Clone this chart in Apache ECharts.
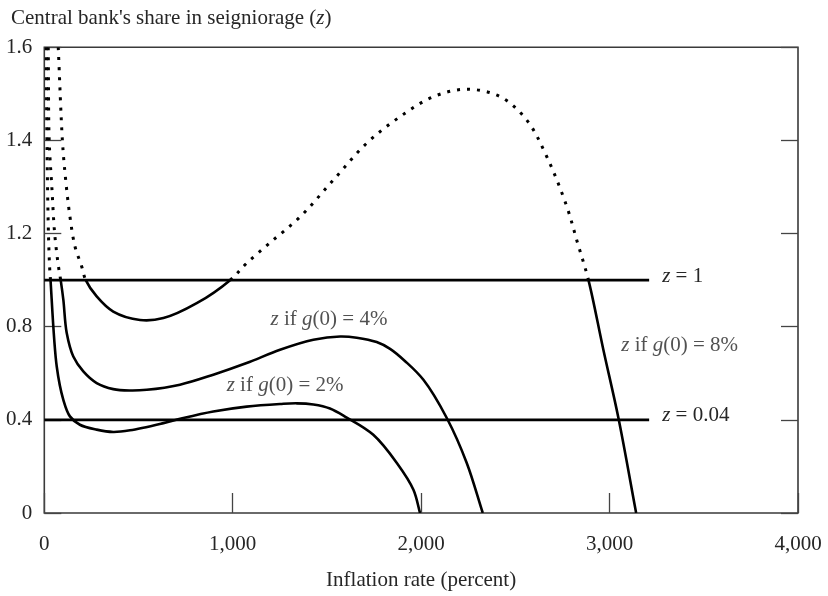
<!DOCTYPE html>
<html>
<head>
<meta charset="utf-8">
<script src="https://cdn.jsdelivr.net/npm/echarts@6/dist/echarts.min.js"></script>
<style>
  html, body { margin: 0; padding: 0; background: #ffffff; }
  #chart { width: 828px; height: 596px; }
</style>
</head>
<body>
<div id="chart"></div>
<script>
// Axis ticks
const xTickValues = [0, 1000, 2000, 3000, 4000];
const yTickLabels = ['0', '0.4', '0.8', '1.2', '1.4', '1.6'];

// z when g(0) = 2%
const g2Inflation = [10, 14, 22, 29, 33, 66, 101, 136, 189, 278, 366, 455, 632, 738, 897, 1074, 1251, 1340, 1428, 1516, 1605, 1746, 1871, 1959, 1994];
const g2Share     = [2.0, 1.6, 1.2, 1.044, 1.0, 0.629, 0.486, 0.415, 0.379, 0.358, 0.348, 0.355, 0.386, 0.408, 0.436, 0.457, 0.468, 0.471, 0.466, 0.449, 0.41, 0.336, 0.215, 0.1, 0];

// z when g(0) = 4%
const g4Inflation = [21, 26, 40, 55, 75, 87, 101, 119, 154, 207, 278, 366, 455, 544, 720, 897, 1074, 1251, 1428, 1570, 1658, 1764, 1835, 1915, 2012, 2136, 2242, 2327];
const g4Share     = [2.0, 1.6, 1.4, 1.2, 1.06, 1.0, 0.916, 0.773, 0.672, 0.608, 0.558, 0.532, 0.526, 0.529, 0.551, 0.594, 0.644, 0.701, 0.744, 0.758, 0.753, 0.734, 0.705, 0.652, 0.572, 0.408, 0.215, 0];

// z when g(0) = 8%
const g8Inflation = [74, 96, 110, 136, 163, 198, 220, 278, 366, 508, 632, 809, 986, 1074, 1200, 1359, 1534, 1711, 1888, 2065, 2242, 2419, 2560, 2667, 2773, 2830, 2888, 2967, 3047, 3141];
const g8Share     = [2.0, 1.6, 1.459, 1.273, 1.144, 1.06, 1.0, 0.930, 0.865, 0.829, 0.837, 0.901, 1.0, 1.073, 1.162, 1.273, 1.430, 1.588, 1.702, 1.788, 1.820, 1.788, 1.688, 1.530, 1.316, 1.16, 1.0, 0.701, 0.408, 0];

// Reference levels
const levelOneInflation = [0, 3210];
const levelOneShare = [1, 1];
const levelLowInflation = [0, 3210];
const levelLowShare = [0.4, 0.4];

const FONT = 'Liberation Serif';
const TEXT = '#262626';
const italic = { fontStyle: 'italic', fontFamily: FONT, fontSize: 21, color: TEXT };
const DOTTED = [3, 7];

function pairs(xs, ys) {
  return xs.map((x, i) => [x, ys[i]]);
}

// Centripetal Catmull-Rom segment between p1 and p2, returned as Bezier control points
function bezierControls(p0, p1, p2, p3) {
  const dist = (a, b) => Math.pow(Math.hypot(b[0] - a[0], b[1] - a[1]), 0.5);
  const d1 = dist(p0, p1), d2 = dist(p1, p2), d3 = dist(p2, p3);
  let c1, c2;
  if (d1 < 1e-6) {
    c1 = [p1[0] + (p2[0] - p1[0]) / 3, p1[1] + (p2[1] - p1[1]) / 3];
  } else {
    const a = d1 * d1, b = d2 * d2, m = 2 * a + 3 * d1 * d2 + b, n = 3 * d1 * (d1 + d2);
    c1 = [0, 1].map(k => (a * p2[k] - b * p0[k] + m * p1[k]) / n);
  }
  if (d3 < 1e-6) {
    c2 = [p2[0] - (p2[0] - p1[0]) / 3, p2[1] - (p2[1] - p1[1]) / 3];
  } else {
    const a = d3 * d3, b = d2 * d2, m = 2 * a + 3 * d3 * d2 + b, n = 3 * d3 * (d3 + d2);
    c2 = [0, 1].map(k => (a * p1[k] - b * p3[k] + m * p2[k]) / n);
  }
  return [c1, c2];
}

// One smooth curve; the part where z > 1 is dotted, the rest solid
function curveSeries(xs, ys) {
  const values = pairs(xs, ys);
  return {
    type: 'custom',
    silent: true,
    data: values,
    encode: { x: 0, y: 1 },
    renderItem(params, api) {
      if (params.dataIndex !== 0) return null;
      const pts = values.map(v => api.coord(v));
      const n = pts.length;
      const runs = [];
      let run = null;
      for (let i = 0; i < n - 1; i++) {
        const p0 = pts[Math.max(i - 1, 0)], p1 = pts[i], p2 = pts[i + 1], p3 = pts[Math.min(i + 2, n - 1)];
        const [c1, c2] = bezierControls(p0, p1, p2, p3);
        const above = (values[i][1] + values[i + 1][1]) / 2 > 1;
        if (!run || run.above !== above) {
          run = { above, d: `M${p1[0]},${p1[1]}` };
          runs.push(run);
        }
        run.d += `C${c1[0]},${c1[1]},${c2[0]},${c2[1]},${p2[0]},${p2[1]}`;
      }
      const cs = params.coordSys;
      const clip = { type: 'rect', shape: { x: cs.x, y: cs.y, width: cs.width, height: cs.height } };
      const children = runs.map(r => ({
        type: 'path',
        shape: { pathData: r.d },
        clipPath: clip,
        style: r.above
          ? { fill: 'none', stroke: '#000', lineWidth: 3, lineDash: DOTTED, lineCap: 'butt' }
          : { fill: 'none', stroke: '#000', lineWidth: 2.6, lineJoin: 'round' }
      }));
      return { type: 'group', children };
    }
  };
}

function levelSeries(xs, ys, text) {
  return {
    type: 'line',
    data: pairs(xs, ys),
    symbol: 'none',
    silent: true,
    lineStyle: { color: '#000', width: 2.8 },
    endLabel: {
      show: true,
      distance: 13,
      offset: [0, -4],
      formatter: text,
      fontFamily: FONT,
      fontSize: 21,
      color: TEXT,
      rich: { i: italic }
    }
  };
}

function noteSeries(x, y, text) {
  return {
    type: 'scatter',
    data: [[x, y]],
    symbolSize: 0,
    silent: true,
    label: {
      show: true,
      position: 'inside',
      formatter: text,
      fontFamily: FONT,
      fontSize: 21,
      color: TEXT,
      rich: { i: italic }
    }
  };
}

const chart = echarts.init(document.getElementById('chart'), null, { renderer: 'canvas' });

const axisTickStyle = { color: '#444', width: 1.3 };

chart.setOption({
  animation: false,
  backgroundColor: '#ffffff',
  title: {
    text: "Central bank's share in seigniorage ({i|z})",
    left: 6,
    top: 3,
    textStyle: {
      fontFamily: FONT,
      fontSize: 21,
      fontWeight: 'normal',
      color: TEXT,
      rich: { i: italic }
    }
  },
  grid: {
    left: 44.3,
    right: 30,
    top: 47.3,
    bottom: 82.7,
    show: true,
    borderColor: '#3a3a3a',
    borderWidth: 1.6,
    backgroundColor: 'transparent'
  },
  xAxis: {
    type: 'value',
    min: xTickValues[0],
    max: xTickValues[xTickValues.length - 1],
    interval: 1000,
    name: 'Inflation rate (percent)',
    nameLocation: 'middle',
    nameGap: 57,
    nameTextStyle: { fontFamily: FONT, fontSize: 21, color: TEXT },
    axisLine: { show: false },
    axisTick: { show: true, inside: true, length: 20, lineStyle: axisTickStyle },
    splitLine: { show: false },
    axisLabel: {
      margin: 21,
      fontFamily: FONT,
      fontSize: 21,
      color: TEXT,
      formatter: v => v.toLocaleString('en-US')
    }
  },
  yAxis: [
    {
      type: 'value',
      min: 0,
      max: 2.0,
      interval: 0.4,
      axisLine: { show: false },
      axisTick: { show: true, inside: true, length: 17, lineStyle: axisTickStyle },
      splitLine: { show: false },
      axisLabel: {
        margin: 12,
        fontFamily: FONT,
        fontSize: 21,
        color: TEXT,
        formatter: v => yTickLabels[Math.round(v / 0.4)]
      }
    },
    {
      type: 'value',
      position: 'right',
      min: 0,
      max: 2.0,
      interval: 0.4,
      axisLine: { show: false },
      axisTick: { show: true, inside: true, length: 17, lineStyle: axisTickStyle },
      splitLine: { show: false },
      axisLabel: { show: false }
    }
  ],
  series: [
    curveSeries(g2Inflation, g2Share),
    curveSeries(g4Inflation, g4Share),
    curveSeries(g8Inflation, g8Share),
    levelSeries(levelOneInflation, levelOneShare, '{i|z} = 1'),
    levelSeries(levelLowInflation, levelLowShare, '{i|z} = 0.04'),
    noteSeries(1511, 0.833, '{i|z} if {i|g}(0) = 4%'),
    noteSeries(1278, 0.546, '{i|z} if {i|g}(0) = 2%'),
    noteSeries(3372, 0.718, '{i|z} if {i|g}(0) = 8%')
  ]
});
</script>
</body>
</html>
